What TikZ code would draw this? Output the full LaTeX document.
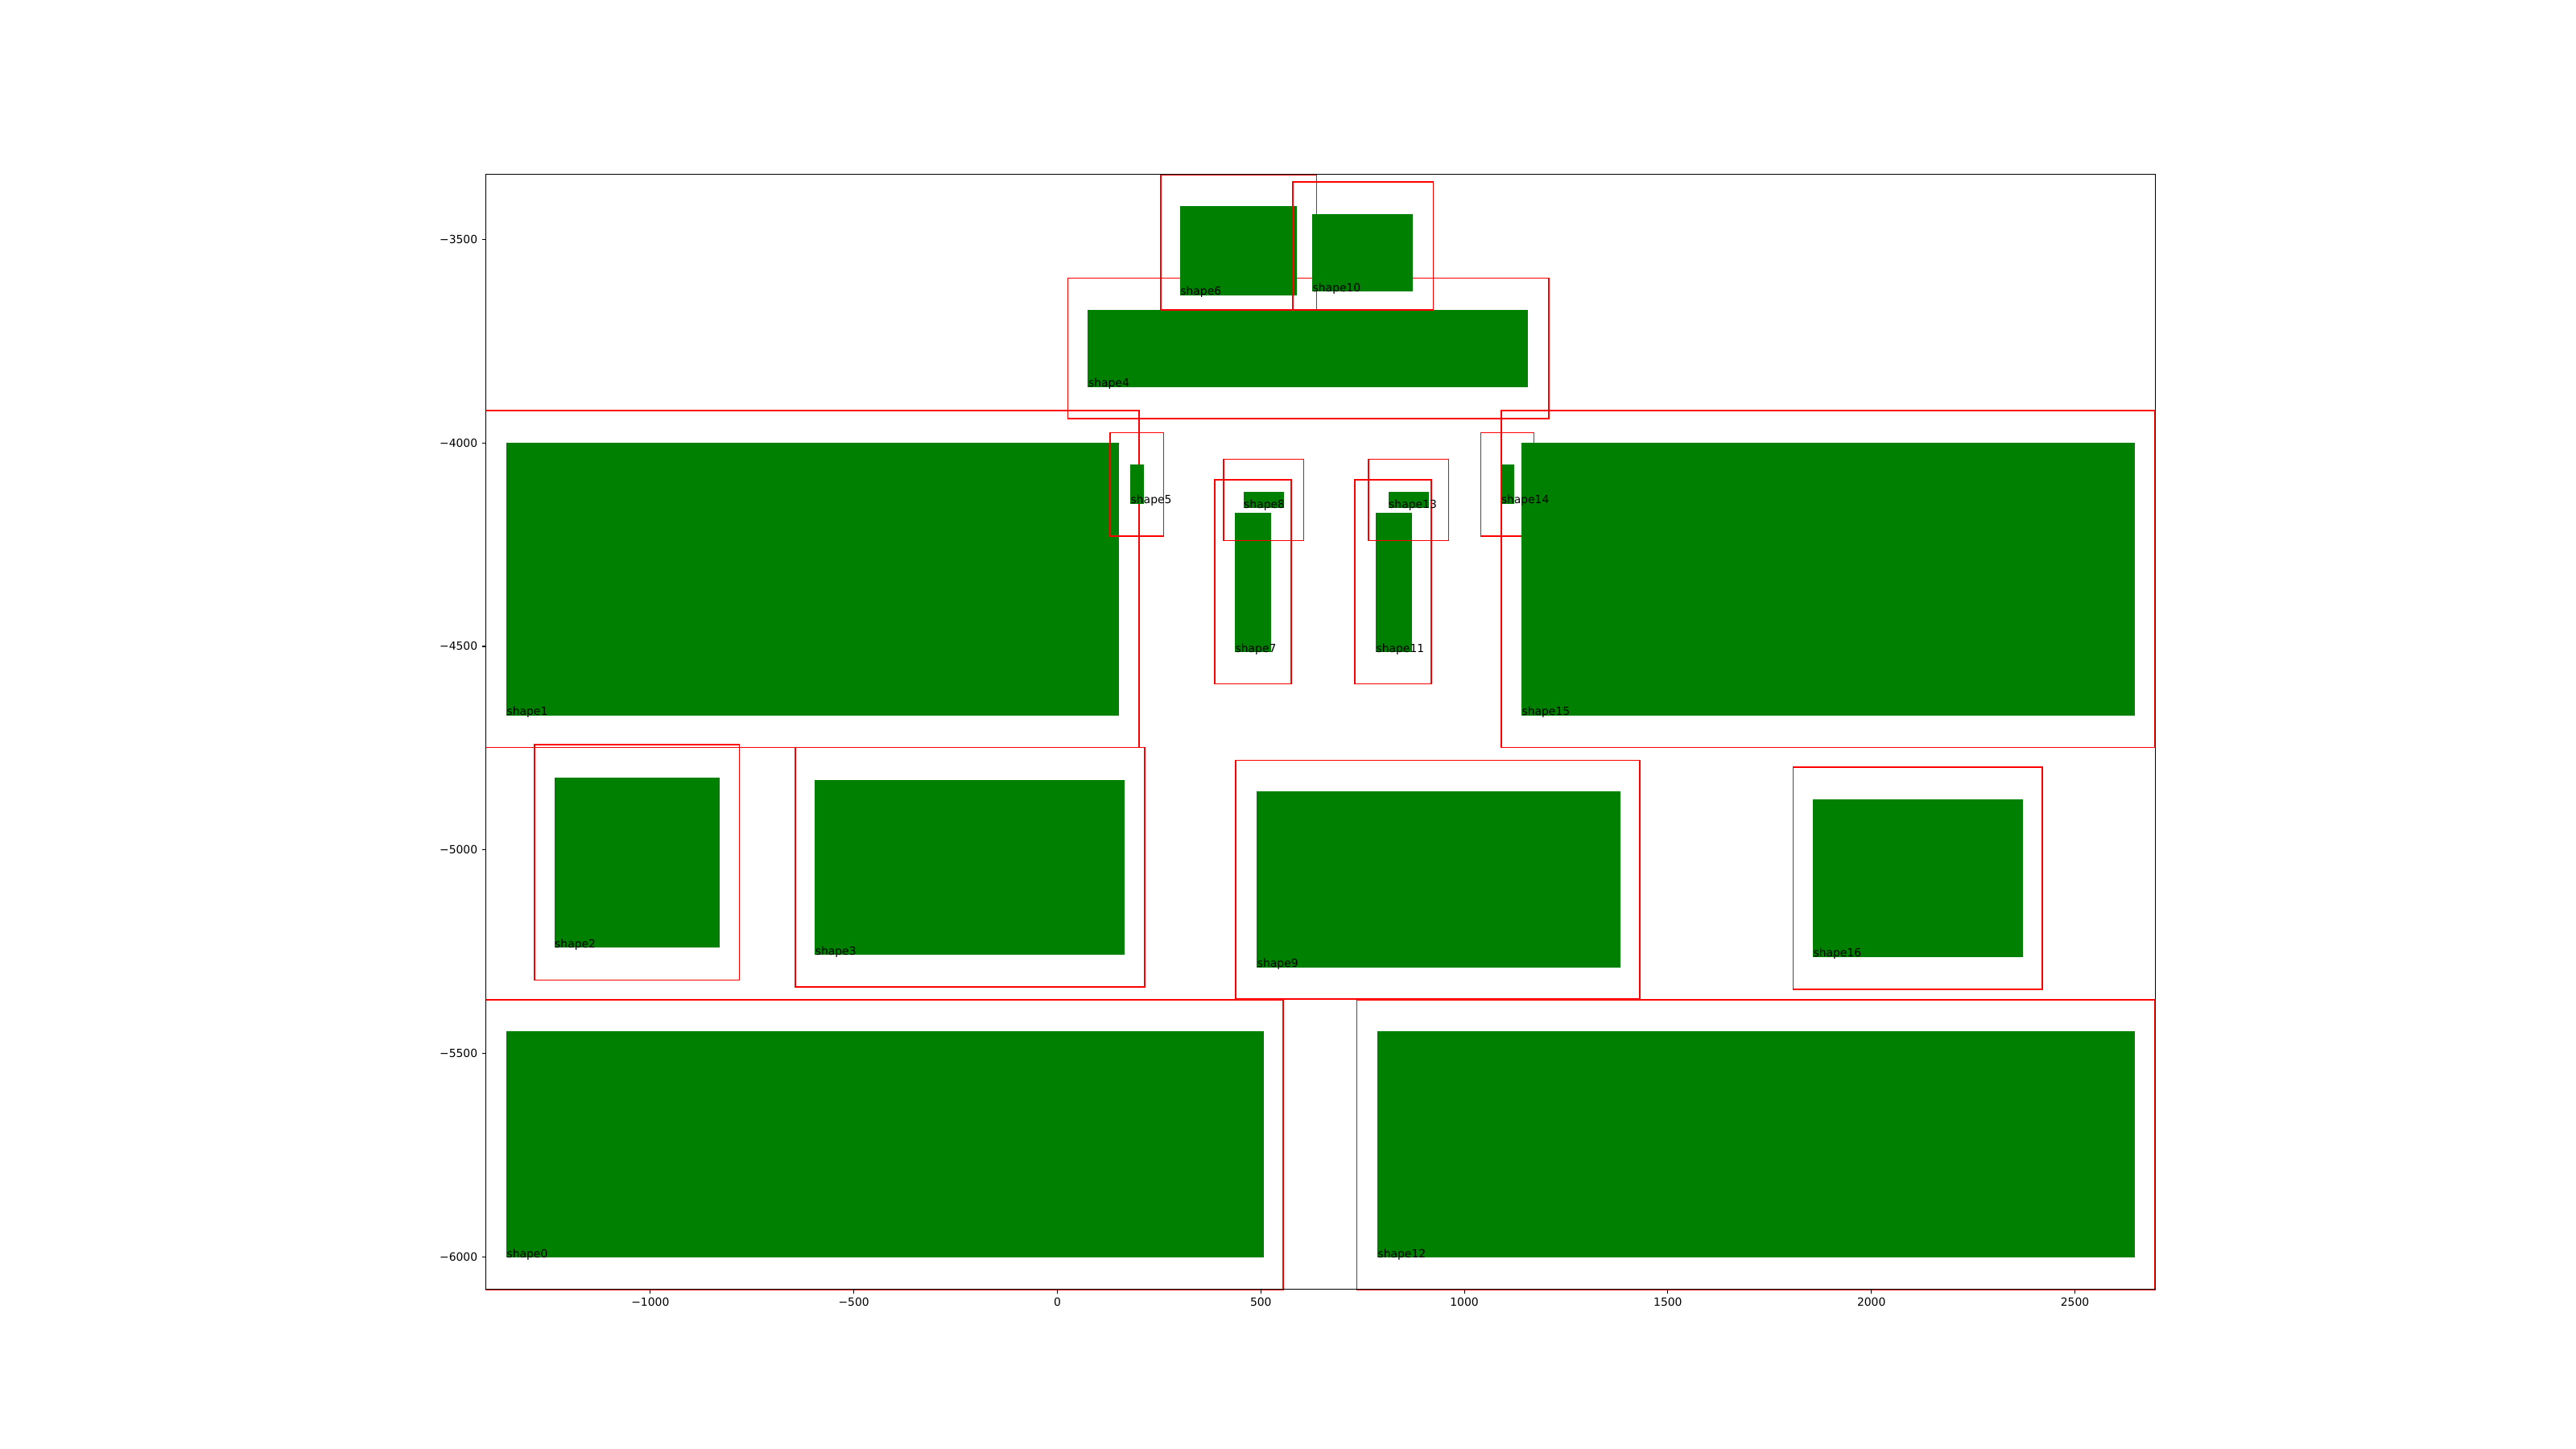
\documentclass[tikz,border=0pt]{standalone}
\usepackage{fontspec}
\setmainfont{DejaVu Sans}
\definecolor{Part}{HTML}{008000}
\definecolor{Zone}{HTML}{FF0000}
\newcommand{\plotfont}{\fontsize{3.95pt}{4.74pt}\selectfont}
\tikzset{
  part/.style={fill=Part,draw=none},
  zone/.style={draw=Zone,line width=.45pt},
  spine/.style={draw=black,line width=.33pt},
  tickmark/.style={draw=black,line width=.33pt},
  tag/.style={anchor=base west,inner sep=0pt,font=\plotfont},
  xlab/.style={anchor=north,inner sep=0pt,font=\plotfont},
  ylab/.style={anchor=east,inner sep=0pt,font=\plotfont}
}

\begin{document}
\begin{tikzpicture}[x=0.0050561cm,y=0.0050561cm]
    \useasboundingbox (-2597.8,-6471.8) rectangle (3731.2,-2912);
    % clearance zone, then the part itself
    \draw[zone] (-1404,-6080) rectangle (555,-5368);  \fill[part] (-1354,-6002) rectangle (507,-5446);
    \draw[zone] (-1404,-4748) rectangle (201,-3921);  \fill[part] (-1354,-4670) rectangle (152,-4000);
    \draw[zone] (-1284,-5320) rectangle (-781,-4742); \fill[part] (-1236,-5240) rectangle (-830,-4822);
    \draw[zone] (-644,-5337) rectangle (215,-4748);   \fill[part] (-596,-5258) rectangle (165,-4828);
    \draw[zone] (26,-3940) rectangle (1208,-3595);    \fill[part] (75,-3863) rectangle (1157,-3673);
    \draw[zone] (130,-4229) rectangle (261,-3975);    \fill[part] (179,-4150) rectangle (213,-4053);
    \draw[zone] (254,-3673) rectangle (637,-3341);    \fill[part] (301,-3637) rectangle (588,-3418);
    \draw[zone] (387,-4592) rectangle (575,-4091);    \fill[part] (436,-4514) rectangle (525,-4171);
    \draw[zone] (409,-4240) rectangle (605,-4040);    \fill[part] (457,-4160) rectangle (557,-4120);
    \draw[zone] (438,-5366) rectangle (1431,-4780);   \fill[part] (490,-5289) rectangle (1383,-4857);
    \draw[zone] (578,-3673) rectangle (924,-3359);    \fill[part] (626,-3628) rectangle (874,-3438);
    \draw[zone] (731,-4592) rectangle (919,-4091);    \fill[part] (782,-4514) rectangle (871,-4171);
    \draw[zone] (736,-6080) rectangle (2697,-5368);   \fill[part] (786,-6002) rectangle (2647,-5446);
    \draw[zone] (765,-4240) rectangle (961,-4040);    \fill[part] (813,-4160) rectangle (913,-4120);
    \draw[zone] (1040,-4229) rectangle (1171,-3975);  \fill[part] (1089,-4150) rectangle (1123,-4053);
    \draw[zone] (1091,-4748) rectangle (2697,-3921);  \fill[part] (1140,-4670) rectangle (2647,-4000);
    \draw[zone] (1808,-5343) rectangle (2420,-4797);  \fill[part] (1856,-5263) rectangle (2372,-4876);
    % names at the lower left corners
    \node[tag] (s0) at (-1354,-6002) {shape0};
    \node[tag] (s1) at (-1354,-4670) {shape1};
    \node[tag] (s2) at (-1236,-5240) {shape2};
    \node[tag] (s3) at (-596,-5258) {shape3};
    \node[tag] (s4) at (75,-3863) {shape4};
    \node[tag] (s5) at (179,-4150) {shape5};
    \node[tag] (s6) at (301,-3637) {shape6};
    \node[tag] (s7) at (436,-4514) {shape7};
    \node[tag] (s8) at (457,-4160) {shape8};
    \node[tag] (s9) at (490,-5289) {shape9};
    \node[tag] (s10) at (626,-3628) {shape10};
    \node[tag] (s11) at (782,-4514) {shape11};
    \node[tag] (s12) at (786,-6002) {shape12};
    \node[tag] (s13) at (813,-4160) {shape13};
    \node[tag] (s14) at (1089,-4150) {shape14};
    \node[tag] (s15) at (1140,-4670) {shape15};
    \node[tag] (s16) at (1856,-5263) {shape16};
    % axes frame
    \draw[spine] (-1404,-6080) rectangle (2697,-3340);
    % x ticks
    \draw[tickmark] (-1000,-6080) -- ++(0,-9.6); \node[xlab] (xa) at (-1000,-6099.2) {−1000};
    \draw[tickmark] (-500,-6080) -- ++(0,-9.6);  \node[xlab] (xb) at (-500,-6099.2) {−500};
    \draw[tickmark] (0,-6080) -- ++(0,-9.6);     \node[xlab] (xc) at (0,-6099.2) {0};
    \draw[tickmark] (500,-6080) -- ++(0,-9.6);   \node[xlab] (xd) at (500,-6099.2) {500};
    \draw[tickmark] (1000,-6080) -- ++(0,-9.6);  \node[xlab] (xe) at (1000,-6099.2) {1000};
    \draw[tickmark] (1500,-6080) -- ++(0,-9.6);  \node[xlab] (xf) at (1500,-6099.2) {1500};
    \draw[tickmark] (2000,-6080) -- ++(0,-9.6);  \node[xlab] (xg) at (2000,-6099.2) {2000};
    \draw[tickmark] (2500,-6080) -- ++(0,-9.6);  \node[xlab] (xh) at (2500,-6099.2) {2500};
    % y ticks
    \draw[tickmark] (-1404,-3500) -- ++(-9.6,0); \node[ylab] (ya) at (-1423.2,-3500) {−3500};
    \draw[tickmark] (-1404,-4000) -- ++(-9.6,0); \node[ylab] (yb) at (-1423.2,-4000) {−4000};
    \draw[tickmark] (-1404,-4500) -- ++(-9.6,0); \node[ylab] (yc) at (-1423.2,-4500) {−4500};
    \draw[tickmark] (-1404,-5000) -- ++(-9.6,0); \node[ylab] (yd) at (-1423.2,-5000) {−5000};
    \draw[tickmark] (-1404,-5500) -- ++(-9.6,0); \node[ylab] (ye) at (-1423.2,-5500) {−5500};
    \draw[tickmark] (-1404,-6000) -- ++(-9.6,0); \node[ylab] (yf) at (-1423.2,-6000) {−6000};
\end{tikzpicture}
\end{document}
